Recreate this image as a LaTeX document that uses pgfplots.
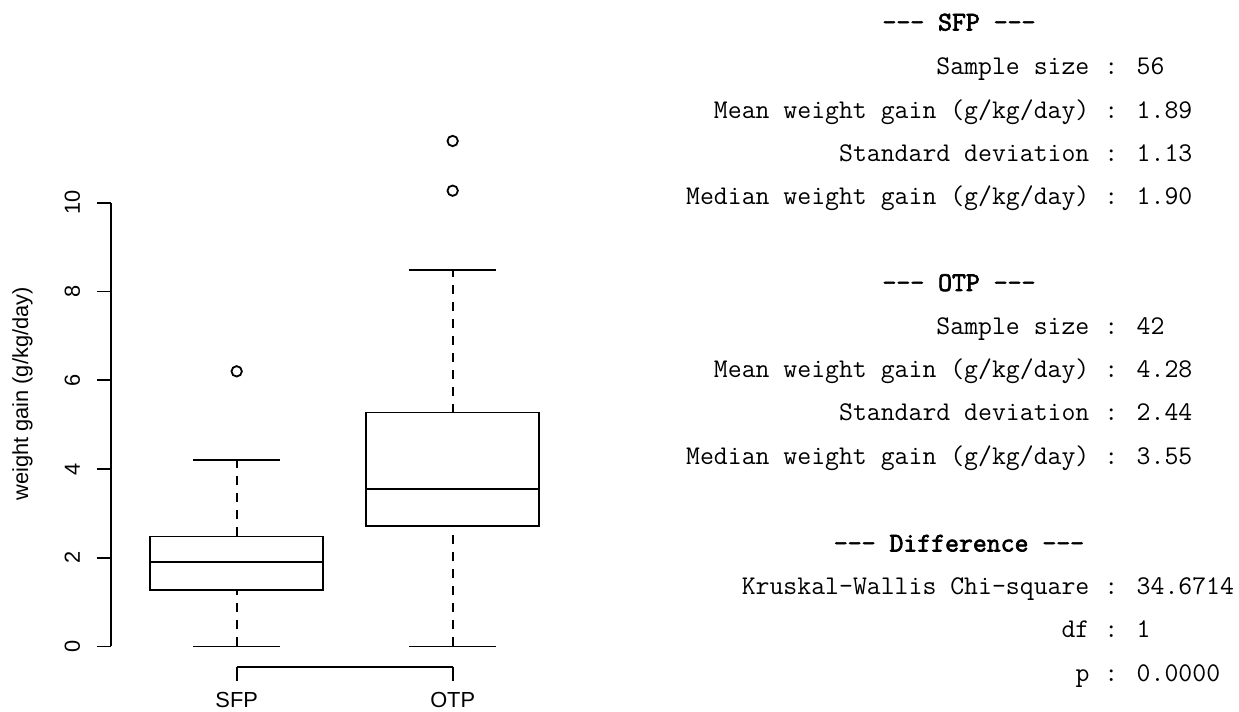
\documentclass[border=0pt]{standalone}
\usepackage{pgfplots}
\pgfplotsset{compat=1.18}
\usepgfplotslibrary{statistics}
\usepackage{fontspec}
\setmainfont{Liberation Sans}
\newfontfamily\ttbold{Latin Modern Mono}[FakeBold=2.5]
\pgfplotsset{
  boxplot/draw/lower whisker/.code={%
    \draw[black,line width=0.9pt,dash pattern=on 4.5pt off 4pt] (boxplot cs:\pgfplotsboxplotvalue{lower whisker}) -- (boxplot cs:\pgfplotsboxplotvalue{lower quartile});
    \draw[black,line width=0.9pt,solid] (boxplot whisker cs:\pgfplotsboxplotvalue{lower whisker},0) -- (boxplot whisker cs:\pgfplotsboxplotvalue{lower whisker},1);
  },
  boxplot/draw/upper whisker/.code={%
    \draw[black,line width=0.9pt,dash pattern=on 4.5pt off 4pt] (boxplot cs:\pgfplotsboxplotvalue{upper quartile}) -- (boxplot cs:\pgfplotsboxplotvalue{upper whisker});
    \draw[black,line width=0.9pt,solid] (boxplot whisker cs:\pgfplotsboxplotvalue{upper whisker},0) -- (boxplot whisker cs:\pgfplotsboxplotvalue{upper whisker},1);
  },
}
\begin{document}
\begin{tikzpicture}
\useasboundingbox (-55.7pt,-22.65pt) rectangle (563.8pt,333.35pt);
\begin{axis}[
  at={(0pt,0pt)}, anchor=south west,
  scale only axis, width=233.28pt, height=272.96pt,
  xmin=0.42, xmax=2.58, ymin=-0.4556, ymax=11.8456,
  axis lines*=left, axis line style={draw=none},
  xtick={1,2}, xticklabels={SFP,OTP},
  ytick={0,2,4,6,8,10},
  tick align=outside, major tick length=7.25pt,
  tick style={black, line width=0.9pt},
  /pgf/number format/assume math mode=true,
  ticklabel style={font=\fontsize{10.9}{12}\selectfont},
  yticklabel style={rotate=90, anchor=base, inner sep=0pt},
  yticklabel shift=8.45pt,
  xticklabel style={anchor=base, inner sep=0pt},
  xticklabel shift=13.4pt,
  boxplot/draw direction=y,
  boxplot/box extend=0.8, boxplot/whisker extend=0.4,
  boxplot/every box/.style={draw=black, line width=0.9pt},
  boxplot/every median/.style={draw=black, line width=0.9pt},
  clip=false,
]
\addplot[boxplot prepared={draw position=1, lower whisker=0, lower quartile=1.28, median=1.90, upper quartile=2.48, upper whisker=4.21},
  draw=black, line width=0.9pt, mark=o, mark size=2.6pt, mark options={solid, line width=0.9pt}]
  table[row sep=\\, y index=0] {data\\ 6.2\\};
\addplot[boxplot prepared={draw position=2, lower whisker=0, lower quartile=2.72, median=3.55, upper quartile=5.27, upper whisker=8.48},
  draw=black, line width=0.9pt, mark=o, mark size=2.6pt, mark options={solid, line width=0.9pt}]
  table[row sep=\\, y index=0] {data\\ 10.27\\ 11.39\\};
\draw[black, line width=0.9pt] (axis cs:0.42,0) -- (axis cs:0.42,10);
\draw[black, line width=0.9pt] (axis cs:1,-0.4556) -- (axis cs:2,-0.4556);
\end{axis}
\begin{scope}[x=0.5pt, y=-0.5pt, shift={(-55.7pt,333.35pt)}]
  \node[rotate=90, anchor=base, inner sep=0pt, font=\fontsize{10.9}{12}\selectfont] at (28,394) {weight gain (g/kg/day)};
  \begin{scope}[every node/.style={inner sep=0pt, font=\fontsize{13.5}{15}\ttfamily}]
  \node[anchor=base, font=\fontsize{13.5}{15}\ttbold] at (959,30.5) {--- SFP ---};
  \node[anchor=base east] at (1089.8,74.5) {Sample size};
  \node[anchor=base west] at (1103.9,74.5) {: 56};
  \node[anchor=base east] at (1089.8,118.5) {Mean weight gain (g/kg/day)};
  \node[anchor=base west] at (1103.9,118.5) {: 1.89};
  \node[anchor=base east] at (1089.8,161.5) {Standard deviation};
  \node[anchor=base west] at (1103.9,161.5) {: 1.13};
  \node[anchor=base east] at (1089.8,205) {Median weight gain (g/kg/day)};
  \node[anchor=base west] at (1103.9,205) {: 1.90};
  \node[anchor=base, font=\fontsize{13.5}{15}\ttbold] at (959,291) {--- OTP ---};
  \node[anchor=base east] at (1089.8,334.5) {Sample size};
  \node[anchor=base west] at (1103.9,334.5) {: 42};
  \node[anchor=base east] at (1089.8,378) {Mean weight gain (g/kg/day)};
  \node[anchor=base west] at (1103.9,378) {: 4.28};
  \node[anchor=base east] at (1089.8,421) {Standard deviation};
  \node[anchor=base west] at (1103.9,421) {: 2.44};
  \node[anchor=base east] at (1089.8,464.5) {Median weight gain (g/kg/day)};
  \node[anchor=base west] at (1103.9,464.5) {: 3.55};
  \node[anchor=base, font=\fontsize{13.5}{15}\ttbold] at (959,551.5) {--- Difference ---};
  \node[anchor=base east] at (1089.8,594.5) {Kruskal-Wallis Chi-square};
  \node[anchor=base west] at (1103.9,594.5) {: 34.6714};
  \node[anchor=base east] at (1089.8,638) {df};
  \node[anchor=base west] at (1103.9,638) {: 1};
  \node[anchor=base east] at (1089.8,681.5) {p};
  \node[anchor=base west] at (1103.9,681.5) {: 0.0000};
  \end{scope}
\end{scope}
\end{tikzpicture}
\end{document}
